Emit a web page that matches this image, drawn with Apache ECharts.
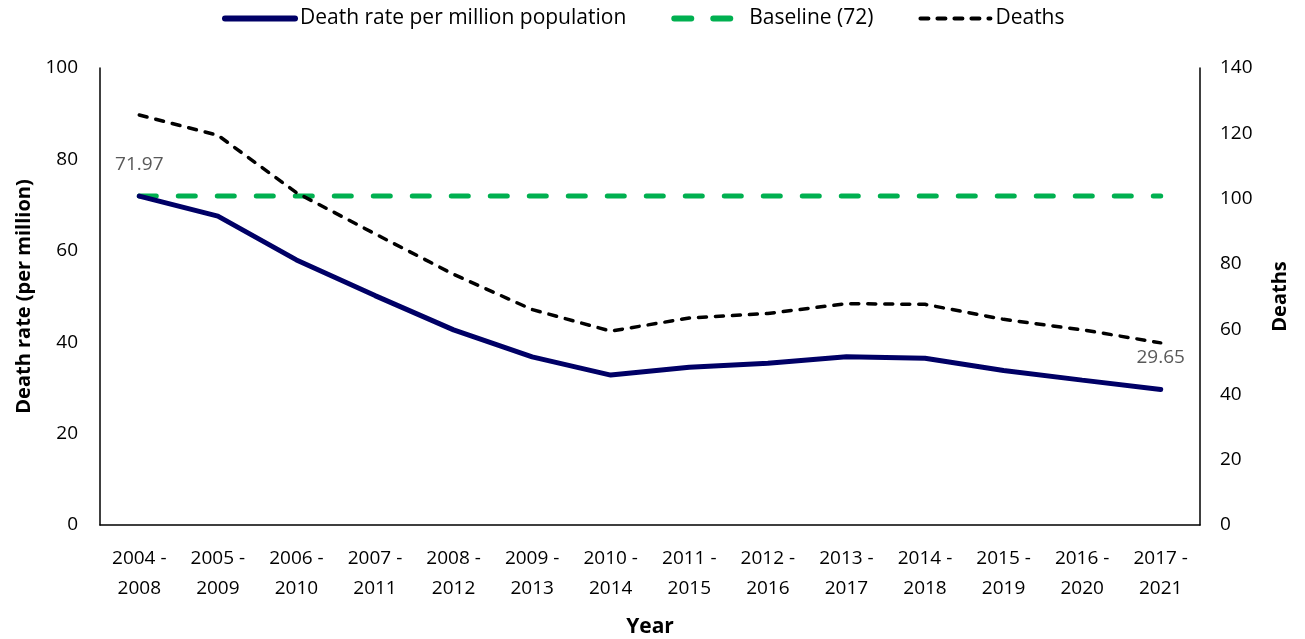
<!DOCTYPE html>
<html>
<head>
<meta charset="utf-8">
<script src="https://cdn.jsdelivr.net/npm/echarts@6/dist/echarts.min.js"></script>
<style>
html, body { margin:0; padding:0; background:#fff; }
#chart { width:1305px; height:639px; }
</style>
</head>
<body>
<div id="chart"></div>
<script>
var years = ['2004 -\n2008', '2005 -\n2009', '2006 -\n2010', '2007 -\n2011', '2008 -\n2012', '2009 -\n2013', '2010 -\n2014',
	'2011 -\n2015', '2012 -\n2016', '2013 -\n2017', '2014 -\n2018', '2015 -\n2019', '2016 -\n2020', '2017 -\n2021'];
var deathRate = [71.97, 67.6, 58.0, 50.2, 42.7, 36.8, 32.8, 34.5, 35.4, 36.8, 36.5, 33.8, 31.7, 29.65];
var baseline = [72, 72, 72, 72, 72, 72, 72, 72, 72, 72, 72, 72, 72, 72];
var deaths = [125.6, 119.4, 101.8, 89.2, 76.8, 66.0, 59.4, 63.4, 64.8, 67.8, 67.6, 63.0, 59.8, 55.8];

var font = '"Open Sans", "Noto Sans", sans-serif';
var navy = '#000066', green = '#00B050';

var chart = echarts.init(document.getElementById('chart'), null, {renderer:'canvas'});

// legend entries: line only, no marker dot
function legendItem(name, color, width){
	return {name:name, itemStyle:{opacity:0}, lineStyle:{color:color, width:width, cap:'round'}} ;
}

var option = {
	backgroundColor: '#fff',
	animation: false,
	textStyle: { fontFamily: font },
	legend: {
		top: 3,
		left: 217,
		itemWidth: 70,
		itemHeight: 12,
		itemGap: 45,
		textStyle: { fontSize: 21, color: '#000', fontFamily: font },
		data: [
			legendItem('Death rate per million population', navy, 6),
			legendItem('Baseline (72)', green, 6),
			legendItem('Deaths', '#000', 4)
		]
	},
	grid: { left: 100, right: 105, top: 68, bottom: 114, outerBoundsMode: 'none' },
	xAxis: {
		type: 'category',
		data: years,
		boundaryGap: true,
		name: 'Year',
		nameLocation: 'middle',
		nameGap: 92,
		nameTextStyle: { fontSize: 21, fontWeight: 'bold', color: '#000' },
		axisLine: { lineStyle: { color: '#000', width: 1.5 } },
		axisTick: { show: false },
		axisLabel: { fontSize: 19, color: '#000', margin: 19, lineHeight: 30, interval: 0 }
	},
	yAxis: [{
		type: 'value',
		min: 0, max: 100, interval: 20,
		name: 'Death rate (per million)',
		nameLocation: 'middle',
		nameGap: 66,
		nameTextStyle: { fontSize: 20, fontWeight: 'bold', color: '#000' },
		axisLine: { show: true, lineStyle: { color: '#000', width: 1.5 } },
		axisTick: { show: false },
		splitLine: { show: false },
		axisLabel: { fontSize: 19, color: '#000', margin: 22 }
	}, {
		type: 'value',
		min: 0, max: 140, interval: 20,
		name: 'Deaths',
		nameLocation: 'middle',
		nameGap: 70,
		nameTextStyle: { fontSize: 20, fontWeight: 'bold', color: '#000' },
		axisLine: { show: true, lineStyle: { color: '#000', width: 1.5 } },
		axisTick: { show: false },
		splitLine: { show: false },
		axisLabel: { fontSize: 19, color: '#000', margin: 20 }
	}],
	series: [{
		name: 'Death rate per million population',
		type: 'line',
		yAxisIndex: 0,
		data: deathRate,
		showSymbol: false,
		symbol: 'none',
		lineStyle: { color: navy, width: 5, cap: 'round' },
		itemStyle: { color: navy },
		// first (max) and last (min) values are labelled
		markPoint: {
			symbol: 'circle',
			symbolSize: 0,
			label: {
				show: true,
				position: 'top',
				distance: 22,
				fontSize: 19,
				color: '#595959',
				fontFamily: font,
				formatter: function (p) { return p.value.toFixed(2); }
			},
			data: [{type:'max'}, {type:'min'}]
		},
		z: 3
	}, {
		name: 'Baseline (72)',
		type: 'line',
		yAxisIndex: 0,
		data: baseline,
		showSymbol: false,
		symbol: 'none',
		lineStyle: { color: green, width: 5, type: [17, 22], cap: 'round' },
		itemStyle: { color: green },
		z: 2
	}, {
		name: 'Deaths',
		type: 'line',
		yAxisIndex: 1,
		data: deaths,
		showSymbol: false,
		symbol: 'none',
		lineStyle: { color: '#000', width: 3.5, type: [8, 9], cap: 'round' },
		itemStyle: { color: '#000' },
		z: 2
	}]
};

chart.setOption(option);
</script>
</body>
</html>
